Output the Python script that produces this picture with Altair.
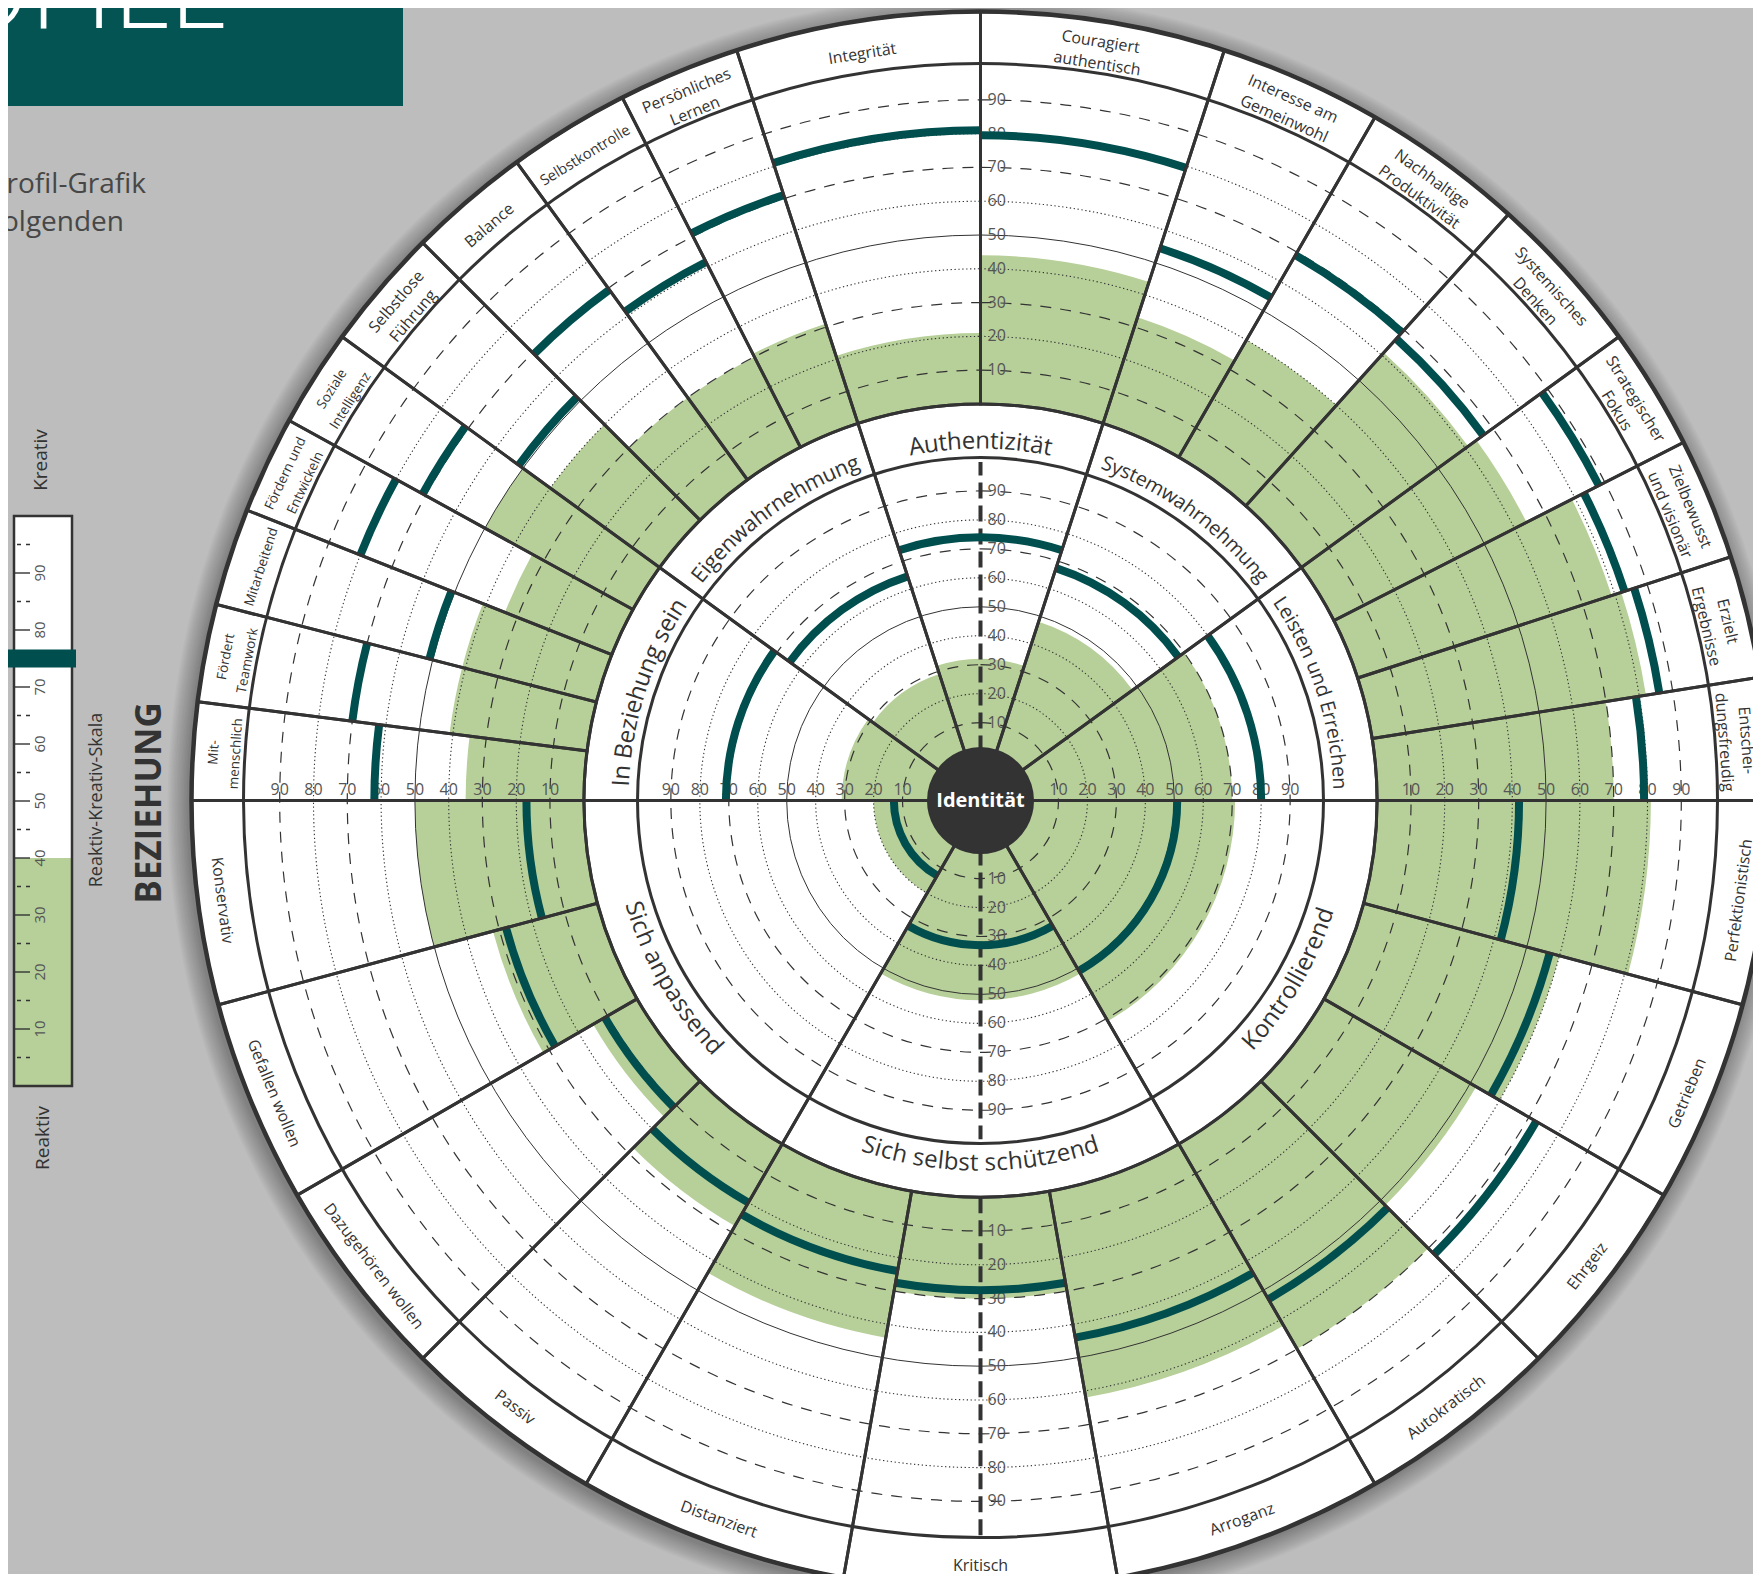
import math
import altair as alt
import pandas as pd

# ---------------- values ----------------
inner_names = ["Authentizität", "Systemwahrnehmung", "Leisten und Erreichen", "Kontrollierend",
               "Sich selbst schützend", "Sich anpassend", "In Beziehung sein", "Eigenwahrnehmung"]
inner_start = [-18, 18, 54, 90, 150, 210, 270, 306]
inner_end = [18, 54, 90, 150, 210, 270, 306, 342]
inner_score = [74, 67.5, 80, 51, 33, 13, 71, 64.5]
inner_green = [32, 48, 70, 71, 52, 20, 31, 29]

outer_names = ["Mit-\nmenschlich", "Fördert\nTeamwork", "Mitarbeitend", "Fördern und\nEntwickeln",
               "Soziale\nIntelligenz", "Selbstlose\nFührung", "Balance", "Selbstkontrolle",
               "Persönliches\nLernen", "Integrität", "Couragiert\nauthentisch", "Interesse am\nGemeinwohl",
               "Nachhaltige\nProduktivität", "Systemisches\nDenken", "Strategischer\nFokus",
               "Zielbewusst\nund visionär", "Erzielt\nErgebnisse", "Entschei-\ndungsfreudig",
               "Perfektionistisch", "Getrieben", "Ehrgeiz", "Autokratisch", "Arroganz", "Kritisch",
               "Distanziert", "Passiv", "Dazugehören wollen", "Gefallen wollen", "Konservativ"]
outer_start = [-90, -82.8, -75.6, -68.4, -61.2, -54, -45, -36, -27, -18, 0, 18, 30, 42, 54, 63, 72, 81,
               90, 105, 120, 135, 150, 170, 190, 210, 225, 240, 255]
outer_end = outer_start[1:] + [270]
outer_score = [62, 70, 51, 80, 71, 51.5, 69.5, 61.5, 71, 81, 79.5, 54.5, 69, 66.5, 88, 83, 86, 79,
               42, 57, 72.5, 53, 44, 27.5, 24, 20, 11, 28, 17]
outer_green = [35, 41, 41, 34, 50, 40, 30, 30, 31, 21, 44, 33, 40, 61, 64, 79, 82, 70,
               81, 60, 52, 70, 62, 30, 44, 28, 15, 32, 50]

grid_dashed = [10, 30, 70, 90]
grid_dotted = [20, 40, 60, 80]
grid_solid = [50]
scale_labels = [10, 20, 30, 40, 50, 60, 70, 80, 90]

legend_major = [10, 20, 30, 40, 50, 60, 70, 80, 90]
legend_minor = [5, 15, 25, 35, 45, 55, 65, 75, 85, 95]
legend_score = 75
legend_green = 40

# ---------------- layout / style ----------------
W, H = 1745, 1566
CX, CY = 972.5, 792.6
FONT = "Open Sans"
DARK = "#333333"
BAR = "#004f4e"
GREEN = "#b7cf98"
BG = "#bcbdbc"
BOX = "#045454"
NUM = "#555555"
R_ID, R_IN_EDGE, R_OUT0, R_OUT_EDGE, R_RIM = 52, 343, 396.6, 737, 789
LH = 22

TH = alt.Scale(type="linear", domain=[0, 360], range=[0, 2 * math.pi])
PX = alt.Scale(type="linear", domain=[0, 1000], range=[0, 1000])
S_IN = alt.Scale(type="linear", domain=[0, 100], range=[49, 338.6])
S_OUT = alt.Scale(type="linear", domain=[0, 100], range=[396.6, 734.6])
LEG = alt.Scale(type="linear", domain=[0, 100], range=[1078, 508])

inner = pd.DataFrame({"name": inner_names, "a0": inner_start, "a1": inner_end,
                      "s": inner_score, "g": inner_green})
inner["z"] = 0
inner["r0"] = R_ID
inner["r1"] = R_OUT0
outer = pd.DataFrame({"name": outer_names, "a0": outer_start, "a1": outer_end,
                      "s": outer_score, "g": outer_green})
outer["z"] = 0
outer["r0"] = R_OUT0
outer["r1"] = R_RIM


def circles(rs):
    return pd.DataFrame({"a0": 0, "a1": 360, "r": rs})


def arcs(data, rscale, r, r2=None, cx=CX, cy=CY, **mark):
    enc = dict(theta=alt.Theta("a0:Q", scale=TH, stack=False), theta2=alt.Theta2("a1:Q"),
               radius=alt.Radius(r + ":Q", scale=rscale), x=alt.value(cx), y=alt.value(cy))
    if r2 is not None:
        enc["radius2"] = alt.Radius2(r2 + ":Q")
    return alt.Chart(data).mark_arc(**mark).encode(**enc)


def ptext(data, rscale, **mark):
    return alt.Chart(data).mark_text(**mark).encode(
        theta=alt.Theta("th:Q", scale=TH, stack=False),
        radius=alt.Radius("r:Q", scale=rscale),
        text=alt.Text("t:N"), x=alt.value(CX), y=alt.value(CY))


CW = {' ': 0.26, '-': 0.32, 'a': 0.556, 'b': 0.613, 'c': 0.502, 'd': 0.613, 'e': 0.561, 'f': 0.339,
      'g': 0.548, 'h': 0.614, 'i': 0.253, 'j': 0.253, 'k': 0.525, 'l': 0.253, 'm': 0.93, 'n': 0.614,
      'o': 0.604, 'p': 0.613, 'q': 0.613, 'r': 0.408, 's': 0.477, 't': 0.353, 'u': 0.614, 'v': 0.501,
      'w': 0.778, 'x': 0.524, 'y': 0.502, 'z': 0.479, 'ä': 0.556, 'ö': 0.604, 'ü': 0.614,
      'A': 0.633, 'B': 0.648, 'D': 0.7, 'E': 0.551, 'F': 0.519, 'G': 0.7, 'I': 0.279, 'K': 0.604,
      'L': 0.528, 'M': 0.87, 'P': 0.6, 'S': 0.539, 'T': 0.55, 'Z': 0.56}


def em(s):
    return sum(CW.get(ch, 0.58) for ch in s)


def is_upper(c):
    return not (90 < c < 270)


# curved inner ring labels, one text mark per character
char_rows = []
for name, a0, a1 in zip(inner_names, inner_start, inner_end):
    c = ((a0 + a1) / 2) % 360
    up = is_upper(c)
    r = 359 if up else 363
    arc_len = math.radians(a1 - a0) * r
    fs = min(24.0, 0.9 * arc_len / em(name))
    L = em(name) * fs
    cum = 0.0
    for ch in name:
        w = CW.get(ch, 0.58) * fs
        s = cum + w / 2 - L / 2
        cum += w
        if ch == " ":
            continue
        d = math.degrees(s / r)
        th = c + d if up else c - d
        rot = th if up else th - 180
        char_rows.append({"th": th, "r": r, "t": ch, "rot": rot % 360, "fs": fs})
chars = pd.DataFrame(char_rows)

# outer ring labels (Vega stacks extra lines below the first one, so the
# first line is moved half a block outward/inward to centre the block)
lab_rows = []
for name, a0, a1 in zip(outer_names, outer_start, outer_end):
    c = ((a0 + a1) / 2) % 360
    up = is_upper(c)
    lines = name.split("\n")
    n = len(lines)
    rc = (756 if up else 765) if n == 1 else 757
    r = rc + (n - 1) * LH / 2 if up else rc - (n - 1) * LH / 2
    arc_len = math.radians(a1 - a0) * rc
    cap = 13.5 if (a1 - a0) < 8 else 16
    fs = min(cap, 0.86 * arc_len / max(em(x) for x in lines))
    rot = c if up else c - 180
    lab_rows.append({"th": c, "r": r, "t": name, "rot": rot % 360, "fs": fs})
labels = pd.DataFrame(lab_rows)


def num_df(angles, vals):
    return pd.DataFrame([{"th": a, "r": v, "t": str(v)} for a in angles for v in vals])


layers = []

# ---- top-left decorations ----
one = pd.DataFrame({"a": [0]})
layers.append(alt.Chart(one).mark_rect(color=BOX).encode(
    x=alt.value(0), x2=alt.value(395), y=alt.value(0), y2=alt.value(98)))
layers.append(alt.Chart(one).mark_text(font=FONT, fontSize=110, fontWeight=300, color="white",
                                       align="right", baseline="alphabetic").encode(
    x=alt.value(222), y=alt.value(20), text=alt.value("PROFILE")))
layers.append(alt.Chart(one).mark_text(font=FONT, fontSize=28, color="#474747", align="right",
                                       baseline="middle").encode(
    x=alt.value(138), y=alt.value(177), text=alt.value("Die Profil-Grafik")))
layers.append(alt.Chart(one).mark_text(font=FONT, fontSize=28, color="#474747", align="right",
                                       baseline="middle").encode(
    x=alt.value(116), y=alt.value(215), text=alt.value("mit den folgenden")))

# ---- legend bar ----
leg = pd.DataFrame({"v0": [0], "v1": [100], "g": [legend_green], "m": [legend_score]})
layers.append(alt.Chart(leg).mark_rect(color="white").encode(
    y=alt.Y("v0:Q", scale=LEG, axis=None), y2="v1:Q", x=alt.value(6), x2=alt.value(64)))
layers.append(alt.Chart(leg).mark_rect(color=GREEN).encode(
    y=alt.Y("v0:Q", scale=LEG, axis=None), y2="g:Q", x=alt.value(6), x2=alt.value(64)))
layers.append(alt.Chart(pd.DataFrame({"v": legend_major})).mark_rule(color=DARK, strokeWidth=1.4).encode(
    y=alt.Y("v:Q", scale=LEG, axis=None), x=alt.value(7), x2=alt.value(22)))
layers.append(alt.Chart(pd.DataFrame({"v": legend_minor})).mark_rule(
    color=DARK, strokeWidth=1.4, strokeDash=[4, 5]).encode(
    y=alt.Y("v:Q", scale=LEG, axis=None), x=alt.value(9), x2=alt.value(22)))
layers.append(alt.Chart(leg).mark_rect(filled=False, stroke=DARK, strokeWidth=2.5).encode(
    y=alt.Y("v0:Q", scale=LEG, axis=None), y2="v1:Q", x=alt.value(6), x2=alt.value(64)))
layers.append(alt.Chart(pd.DataFrame({"v": legend_major, "t": [str(v) for v in legend_major]})).mark_text(
    font=FONT, fontSize=15, color=NUM, angle=270, baseline="middle", align="center").encode(
    y=alt.Y("v:Q", scale=LEG, axis=None), x=alt.value(32), text="t:N"))
layers.append(alt.Chart(leg).mark_rule(color=BAR, strokeWidth=18).encode(
    y=alt.Y("m:Q", scale=LEG, axis=None), x=alt.value(0), x2=alt.value(68)))
for txt, x, y, fs, fw in [("Kreativ", 33, 452, 19, "normal"), ("Reaktiv", 35, 1130, 19, "normal"),
                          ("Reaktiv-Kreativ-Skala", 89, 792, 18, "normal"),
                          ("BEZIEHUNG", 142, 795, 35, "bold")]:
    layers.append(alt.Chart(one).mark_text(font=FONT, fontSize=fs, fontWeight=fw, color=DARK,
                                           angle=270, baseline="middle", align="center").encode(
        x=alt.value(x), y=alt.value(y), text=alt.value(txt)))

# ---- circle: shadow, white disk, green fills ----
layers.append(arcs(circles([R_RIM + 1.5 * k for k in range(1, 15)]), PX, "r",
                   cx=CX - 3, cy=CY + 4, fill="#000000", fillOpacity=0.022, strokeWidth=0))
layers.append(arcs(circles([R_RIM]), PX, "r", fill="white", strokeWidth=0))
layers.append(arcs(outer, S_OUT, "g", "z", fill=GREEN, strokeWidth=0))
layers.append(arcs(inner, S_IN, "g", "z", fill=GREEN, strokeWidth=0))

# ---- grid circles ----
for sc in (S_IN, S_OUT):
    layers.append(arcs(circles(grid_dashed), sc, "r", filled=False, stroke=DARK,
                       strokeWidth=1.2, strokeDash=[11, 9]))
    layers.append(arcs(circles(grid_dotted), sc, "r", filled=False, stroke=DARK,
                       strokeWidth=1.1, strokeDash=[1.3, 2.6]))
    layers.append(arcs(circles(grid_solid), sc, "r", filled=False, stroke=DARK, strokeWidth=1))

# ---- scale numbers ----
for sc in (S_IN, S_OUT):
    layers.append(ptext(num_df([90, 270], scale_labels), sc, font=FONT, fontSize=16, color=NUM,
                        align="center", baseline="alphabetic", dy=-6))
    layers.append(ptext(num_df([0, 180], scale_labels), sc, font=FONT, fontSize=16, color=NUM,
                        align="left", baseline="middle", dx=7))

# ---- thick dashed axes ----
ax = pd.DataFrame({"v0": [0], "v1": [100]})
for rng in ([CY - 49, CY - 338.6], [CY + 49, CY + 338.6], [CY + 396.6, CY + 734.6]):
    layers.append(alt.Chart(ax).mark_rule(color=DARK, strokeWidth=4, strokeDash=[16, 7]).encode(
        x=alt.value(CX), y=alt.Y("v0:Q", scale=alt.Scale(domain=[0, 100], range=rng), axis=None),
        y2="v1:Q"))

# ---- score bars ----
layers.append(arcs(outer, S_OUT, "s", "s", filled=False, stroke=BAR, strokeWidth=8,
                   strokeJoin="bevel", strokeCap="butt"))
layers.append(arcs(inner, S_IN, "s", "s", filled=False, stroke=BAR, strokeWidth=8,
                   strokeJoin="bevel", strokeCap="butt"))

# ---- outlines ----
layers.append(arcs(inner, PX, "r1", "r0", filled=False, stroke=DARK, strokeWidth=3))
layers.append(arcs(outer, PX, "r1", "r0", filled=False, stroke=DARK, strokeWidth=3))
layers.append(arcs(circles([R_IN_EDGE, R_OUT_EDGE]), PX, "r", filled=False, stroke=DARK, strokeWidth=3))
layers.append(arcs(circles([R_RIM]), PX, "r", filled=False, stroke=DARK, strokeWidth=4.5))
layers.append(arcs(circles([R_ID]), PX, "r", fill=DARK, strokeWidth=0))
layers.append(alt.Chart(one).mark_text(font=FONT, fontSize=20, fontWeight="bold", color="white",
                                       align="center", baseline="middle").encode(
    x=alt.value(CX), y=alt.value(CY), text=alt.value("Identität")))

# ---- ring labels ----
layers.append(ptext(labels, PX, font=FONT, color=DARK, align="center", baseline="middle",
                    lineBreak="\n", lineHeight=LH).encode(
    angle=alt.Angle("rot:Q", scale=None), size=alt.Size("fs:Q", scale=None)))
layers.append(ptext(chars, PX, font=FONT, color=DARK, align="center", baseline="middle").encode(
    angle=alt.Angle("rot:Q", scale=None), size=alt.Size("fs:Q", scale=None)))

chart = alt.layer(*layers).resolve_scale(
    theta="independent", radius="independent", y="independent"
).properties(
    width=W, height=H, padding=0, autosize=alt.AutoSizeParams(type="none"), background=BG
).configure_view(strokeWidth=0)

chart.save("out.html", embed_options={"renderer": "svg", "actions": False})
